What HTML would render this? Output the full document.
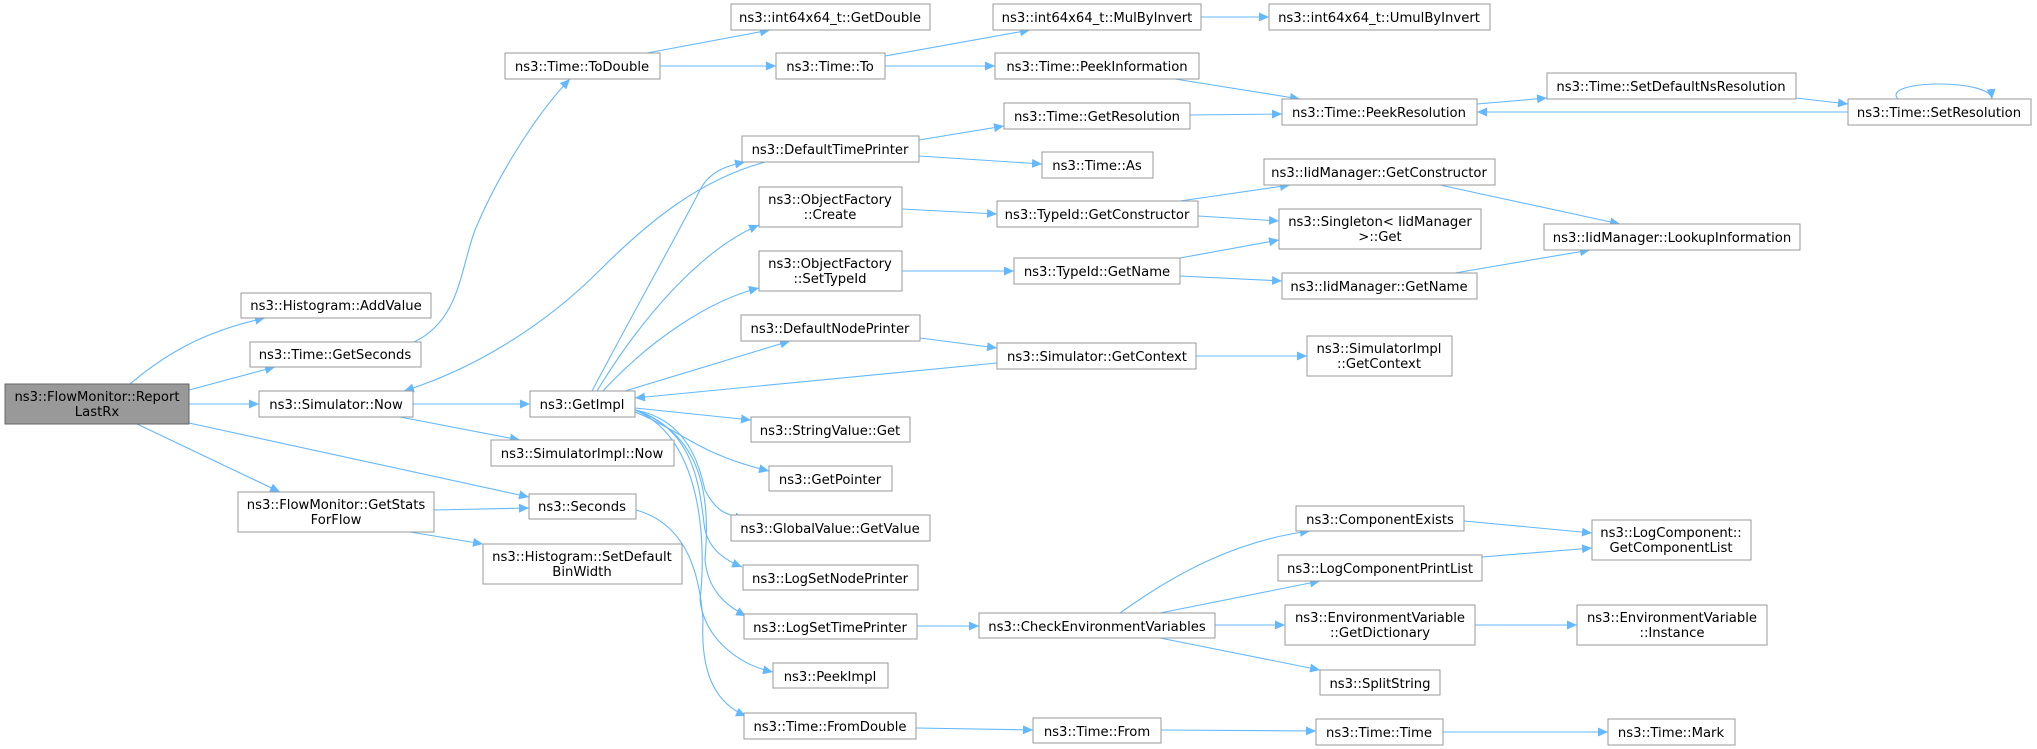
<!DOCTYPE html>
<html><head><meta charset="utf-8"><style>
html,body{margin:0;padding:0;background:#fff;}
svg{display:block;}
text{font-family:"DejaVu Sans","Liberation Sans",sans-serif;font-size:13.2px;fill:#000;text-anchor:middle;}
.n{fill:#fff;stroke:#999;stroke-width:1;}
.r{fill:#999;stroke:#666;stroke-width:1;}
.e{fill:none;stroke:#63b8ff;stroke-width:1.1;marker-end:url(#a);}
</style></head><body>
<svg width="2037" height="749" viewBox="0 0 2037 749" xmlns="http://www.w3.org/2000/svg">
<defs><marker id="a" markerUnits="userSpaceOnUse" markerWidth="11" markerHeight="9" refX="10" refY="4.5" orient="auto"><path d="M0,0 L10,4.5 L0,9 z" fill="#63b8ff"/></marker></defs>

<path class="e" d="M130,384 C170,350 210,330 265,318"/>
<path class="e" d="M189,390 L275,367"/>
<path class="e" d="M189,404 L259,404"/>
<path class="e" d="M189,423 L529,497"/>
<path class="e" d="M137,424 L280,492"/>
<path class="e" d="M414,342 C460,320 460,270 475,230 C500,170 540,110 570,79"/>
<path class="e" d="M647,53 L770,30"/>
<path class="e" d="M660,66 L776,66"/>
<path class="e" d="M885,56 L1030,30"/>
<path class="e" d="M1201,17 L1269,17"/>
<path class="e" d="M885,66 L995,66"/>
<path class="e" d="M1175,79 L1300,99"/>
<path class="e" d="M1477,104 L1547,98"/>
<path class="e" d="M1796,98 L1848,104"/>
<path class="e" d="M1848,112 L1477,112"/>
<path class="e" d="M1898,99 C1880,80 1990,78 1992,99"/>
<path class="e" d="M1190,115 L1282,114"/>
<path class="e" d="M919,140 L1004,126"/>
<path class="e" d="M919,156 L1042,164"/>
<path class="e" d="M765,162 C700,180 650,220 600,270 C540,330 470,370 404,391"/>
<path class="e" d="M413,404 L530,404"/>
<path class="e" d="M400,417 L520,440"/>
<path class="e" d="M592,391 C640,300 680,230 700,190 C710,170 730,165 745,162"/>
<path class="e" d="M597,391 C640,320 700,250 759,225"/>
<path class="e" d="M603,391 C650,340 710,300 759,288"/>
<path class="e" d="M625,391 L790,341"/>
<path class="e" d="M997,363 L635,398"/>
<path class="e" d="M635,408 L751,420"/>
<path class="e" d="M635,412 C680,430 700,455 769,471"/>
<path class="e" d="M635,410 C690,420 700,470 705,490 C715,510 725,515 745,519"/>
<path class="e" d="M635,410 C700,430 700,500 705,530 C710,550 725,560 742,567"/>
<path class="e" d="M635,410 C705,435 710,500 705,560 C708,590 725,605 746,616"/>
<path class="e" d="M635,410 C708,440 705,560 700,600 C705,640 740,665 773,672"/>
<path class="e" d="M636,510 C690,525 700,580 703,620 C700,680 720,705 746,716"/>
<path class="e" d="M902,209 L997,214"/>
<path class="e" d="M1180,201 L1290,185"/>
<path class="e" d="M1198,216 L1279,221"/>
<path class="e" d="M902,271 L1014,271"/>
<path class="e" d="M1180,258 L1279,240"/>
<path class="e" d="M1180,276 L1282,281"/>
<path class="e" d="M1440,185 L1620,224"/>
<path class="e" d="M1455,273 L1590,250"/>
<path class="e" d="M920,338 L997,348"/>
<path class="e" d="M1196,356 L1307,356"/>
<path class="e" d="M434,510 L529,508"/>
<path class="e" d="M410,532 L483,544"/>
<path class="e" d="M917,626 L979,626"/>
<path class="e" d="M1120,613 C1180,570 1240,540 1310,531"/>
<path class="e" d="M1160,613 L1320,581"/>
<path class="e" d="M1215,625 L1285,625"/>
<path class="e" d="M1160,638 L1320,670"/>
<path class="e" d="M1464,521 L1592,533"/>
<path class="e" d="M1482,557 L1592,548"/>
<path class="e" d="M1475,625 L1577,625"/>
<path class="e" d="M916,728 L1033,730"/>
<path class="e" d="M1161,730 L1316,731"/>
<path class="e" d="M1443,732 L1608,732"/>

<rect class="r" x="5" y="384" width="184" height="40"/><text x="97" y="401">ns3::FlowMonitor::Report</text><text x="97" y="416">LastRx</text>
<rect class="n" x="241" y="293" width="190" height="25"/><text x="336" y="310">ns3::Histogram::AddValue</text>
<rect class="n" x="250" y="342" width="171" height="25"/><text x="335" y="359">ns3::Time::GetSeconds</text>
<rect class="n" x="505" y="53" width="155" height="26"/><text x="582" y="71">ns3::Time::ToDouble</text>
<rect class="n" x="259" y="391" width="154" height="26"/><text x="336" y="409">ns3::Simulator::Now</text>
<rect class="n" x="530" y="391" width="105" height="26"/><text x="582" y="409">ns3::GetImpl</text>
<rect class="n" x="491" y="440" width="183" height="26"/><text x="582" y="458">ns3::SimulatorImpl::Now</text>
<rect class="n" x="238" y="492" width="196" height="40"/><text x="336" y="509">ns3::FlowMonitor::GetStats</text><text x="336" y="524">ForFlow</text>
<rect class="n" x="529" y="494" width="107" height="25"/><text x="582" y="511">ns3::Seconds</text>
<rect class="n" x="483" y="544" width="199" height="40"/><text x="582" y="561">ns3::Histogram::SetDefault</text><text x="582" y="576">BinWidth</text>

<rect class="n" x="731" y="4" width="199" height="26"/><text x="830" y="22">ns3::int64x64_t::GetDouble</text>
<rect class="n" x="993" y="4" width="208" height="26"/><text x="1097" y="22">ns3::int64x64_t::MulByInvert</text>
<rect class="n" x="1269" y="4" width="221" height="26"/><text x="1379" y="22">ns3::int64x64_t::UmulByInvert</text>
<rect class="n" x="776" y="53" width="109" height="26"/><text x="830" y="71">ns3::Time::To</text>
<rect class="n" x="995" y="53" width="204" height="26"/><text x="1097" y="71">ns3::Time::PeekInformation</text>
<rect class="n" x="1282" y="99" width="195" height="26"/><text x="1379" y="117">ns3::Time::PeekResolution</text>
<rect class="n" x="1004" y="103" width="186" height="26"/><text x="1097" y="121">ns3::Time::GetResolution</text>
<rect class="n" x="742" y="136" width="177" height="26"/><text x="830" y="154">ns3::DefaultTimePrinter</text>
<rect class="n" x="1042" y="152" width="111" height="26"/><text x="1097" y="170">ns3::Time::As</text>
<rect class="n" x="1264" y="159" width="231" height="26"/><text x="1379" y="177">ns3::IidManager::GetConstructor</text>
<rect class="n" x="759" y="187" width="143" height="40"/><text x="830" y="204">ns3::ObjectFactory</text><text x="830" y="219">::Create</text>
<rect class="n" x="997" y="201" width="201" height="26"/><text x="1097" y="219">ns3::TypeId::GetConstructor</text>
<rect class="n" x="1279" y="209" width="202" height="40"/><text x="1380" y="226">ns3::Singleton&lt; IidManager</text><text x="1380" y="241">&gt;::Get</text>
<rect class="n" x="759" y="251" width="143" height="40"/><text x="830" y="268">ns3::ObjectFactory</text><text x="830" y="283">::SetTypeId</text>
<rect class="n" x="1014" y="258" width="166" height="26"/><text x="1097" y="276">ns3::TypeId::GetName</text>
<rect class="n" x="1282" y="273" width="195" height="26"/><text x="1379" y="291">ns3::IidManager::GetName</text>
<rect class="n" x="741" y="315" width="179" height="26"/><text x="830" y="333">ns3::DefaultNodePrinter</text>
<rect class="n" x="997" y="343" width="199" height="26"/><text x="1097" y="361">ns3::Simulator::GetContext</text>
<rect class="n" x="1307" y="336" width="145" height="40"/><text x="1379" y="353">ns3::SimulatorImpl</text><text x="1379" y="368">::GetContext</text>
<rect class="n" x="1547" y="73" width="249" height="26"/><text x="1671" y="91">ns3::Time::SetDefaultNsResolution</text>
<rect class="n" x="1848" y="99" width="183" height="26"/><text x="1939" y="117">ns3::Time::SetResolution</text>
<rect class="n" x="1544" y="224" width="256" height="26"/><text x="1672" y="242">ns3::IidManager::LookupInformation</text>

<rect class="n" x="751" y="417" width="159" height="25"/><text x="830" y="435">ns3::StringValue::Get</text>
<rect class="n" x="769" y="466" width="123" height="25"/><text x="830" y="484">ns3::GetPointer</text>
<rect class="n" x="731" y="515" width="199" height="26"/><text x="830" y="533">ns3::GlobalValue::GetValue</text>
<rect class="n" x="743" y="565" width="175" height="25"/><text x="830" y="583">ns3::LogSetNodePrinter</text>
<rect class="n" x="744" y="614" width="173" height="25"/><text x="830" y="632">ns3::LogSetTimePrinter</text>
<rect class="n" x="979" y="613" width="236" height="25"/><text x="1097" y="631">ns3::CheckEnvironmentVariables</text>
<rect class="n" x="773" y="663" width="115" height="25"/><text x="830" y="681">ns3::PeekImpl</text>
<rect class="n" x="744" y="713" width="172" height="26"/><text x="830" y="731">ns3::Time::FromDouble</text>
<rect class="n" x="1033" y="718" width="128" height="25"/><text x="1097" y="736">ns3::Time::From</text>
<rect class="n" x="1316" y="719" width="127" height="26"/><text x="1379" y="737">ns3::Time::Time</text>
<rect class="n" x="1296" y="506" width="168" height="25"/><text x="1380" y="524">ns3::ComponentExists</text>
<rect class="n" x="1278" y="555" width="204" height="26"/><text x="1380" y="573">ns3::LogComponentPrintList</text>
<rect class="n" x="1285" y="605" width="190" height="40"/><text x="1380" y="622">ns3::EnvironmentVariable</text><text x="1380" y="637">::GetDictionary</text>
<rect class="n" x="1320" y="670" width="120" height="25"/><text x="1380" y="688">ns3::SplitString</text>
<rect class="n" x="1592" y="520" width="159" height="40"/><text x="1671" y="537">ns3::LogComponent::</text><text x="1671" y="552">GetComponentList</text>
<rect class="n" x="1577" y="605" width="190" height="40"/><text x="1672" y="622">ns3::EnvironmentVariable</text><text x="1672" y="637">::Instance</text>
<rect class="n" x="1608" y="719" width="127" height="26"/><text x="1671" y="737">ns3::Time::Mark</text>
</svg>
</body></html>
